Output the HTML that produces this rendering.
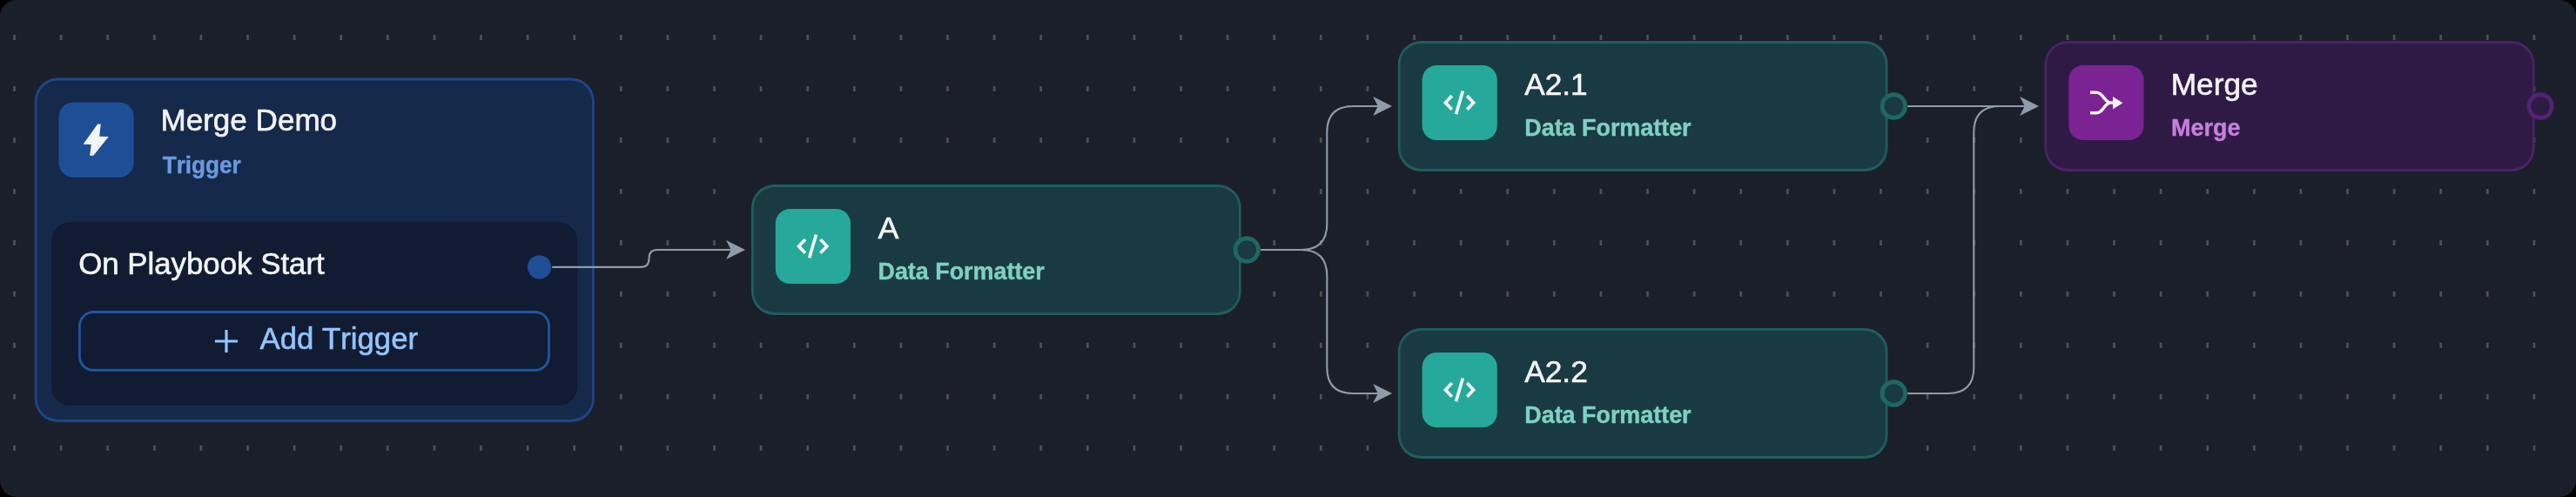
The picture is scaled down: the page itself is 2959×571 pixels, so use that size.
<!DOCTYPE html>
<html>
<head>
<meta charset="utf-8">
<title>Merge Demo</title>
<style>
html,body{margin:0;padding:0;background:#000;}
body{width:2959px;height:571px;overflow:hidden;}
svg{position:absolute;left:0;top:0;display:block;will-change:transform;font-family:"Liberation Sans",sans-serif;}
text{white-space:pre;stroke-linejoin:round;font-kerning:none;}
</style>
</head>
<body>
<svg width="2959" height="571" viewBox="0 0 2959 571">
<rect x="0" y="0" width="2959" height="571" rx="19" fill="#1b1f2a"/>
<path d="M15.15 40.10h2.7v6h-2.7zM68.75 40.10h2.7v6h-2.7zM122.35 40.10h2.7v6h-2.7zM175.95 40.10h2.7v6h-2.7zM229.55 40.10h2.7v6h-2.7zM283.15 40.10h2.7v6h-2.7zM336.75 40.10h2.7v6h-2.7zM390.35 40.10h2.7v6h-2.7zM443.95 40.10h2.7v6h-2.7zM497.55 40.10h2.7v6h-2.7zM551.15 40.10h2.7v6h-2.7zM604.75 40.10h2.7v6h-2.7zM658.35 40.10h2.7v6h-2.7zM711.95 40.10h2.7v6h-2.7zM765.55 40.10h2.7v6h-2.7zM819.15 40.10h2.7v6h-2.7zM872.75 40.10h2.7v6h-2.7zM926.35 40.10h2.7v6h-2.7zM979.95 40.10h2.7v6h-2.7zM1033.55 40.10h2.7v6h-2.7zM1087.15 40.10h2.7v6h-2.7zM1140.75 40.10h2.7v6h-2.7zM1194.35 40.10h2.7v6h-2.7zM1247.95 40.10h2.7v6h-2.7zM1301.55 40.10h2.7v6h-2.7zM1355.15 40.10h2.7v6h-2.7zM1408.75 40.10h2.7v6h-2.7zM1462.35 40.10h2.7v6h-2.7zM1515.95 40.10h2.7v6h-2.7zM1569.55 40.10h2.7v6h-2.7zM1623.15 40.10h2.7v6h-2.7zM1676.75 40.10h2.7v6h-2.7zM1730.35 40.10h2.7v6h-2.7zM1783.95 40.10h2.7v6h-2.7zM1837.55 40.10h2.7v6h-2.7zM1891.15 40.10h2.7v6h-2.7zM1944.75 40.10h2.7v6h-2.7zM1998.35 40.10h2.7v6h-2.7zM2051.95 40.10h2.7v6h-2.7zM2105.55 40.10h2.7v6h-2.7zM2159.15 40.10h2.7v6h-2.7zM2212.75 40.10h2.7v6h-2.7zM2266.35 40.10h2.7v6h-2.7zM2319.95 40.10h2.7v6h-2.7zM2373.55 40.10h2.7v6h-2.7zM2427.15 40.10h2.7v6h-2.7zM2480.75 40.10h2.7v6h-2.7zM2534.35 40.10h2.7v6h-2.7zM2587.95 40.10h2.7v6h-2.7zM2641.55 40.10h2.7v6h-2.7zM2695.15 40.10h2.7v6h-2.7zM2748.75 40.10h2.7v6h-2.7zM2802.35 40.10h2.7v6h-2.7zM2855.95 40.10h2.7v6h-2.7zM2909.55 40.10h2.7v6h-2.7zM15.15 99.05h2.7v6h-2.7zM68.75 99.05h2.7v6h-2.7zM122.35 99.05h2.7v6h-2.7zM175.95 99.05h2.7v6h-2.7zM229.55 99.05h2.7v6h-2.7zM283.15 99.05h2.7v6h-2.7zM336.75 99.05h2.7v6h-2.7zM390.35 99.05h2.7v6h-2.7zM443.95 99.05h2.7v6h-2.7zM497.55 99.05h2.7v6h-2.7zM551.15 99.05h2.7v6h-2.7zM604.75 99.05h2.7v6h-2.7zM658.35 99.05h2.7v6h-2.7zM711.95 99.05h2.7v6h-2.7zM765.55 99.05h2.7v6h-2.7zM819.15 99.05h2.7v6h-2.7zM872.75 99.05h2.7v6h-2.7zM926.35 99.05h2.7v6h-2.7zM979.95 99.05h2.7v6h-2.7zM1033.55 99.05h2.7v6h-2.7zM1087.15 99.05h2.7v6h-2.7zM1140.75 99.05h2.7v6h-2.7zM1194.35 99.05h2.7v6h-2.7zM1247.95 99.05h2.7v6h-2.7zM1301.55 99.05h2.7v6h-2.7zM1355.15 99.05h2.7v6h-2.7zM1408.75 99.05h2.7v6h-2.7zM1462.35 99.05h2.7v6h-2.7zM1515.95 99.05h2.7v6h-2.7zM1569.55 99.05h2.7v6h-2.7zM1623.15 99.05h2.7v6h-2.7zM1676.75 99.05h2.7v6h-2.7zM1730.35 99.05h2.7v6h-2.7zM1783.95 99.05h2.7v6h-2.7zM1837.55 99.05h2.7v6h-2.7zM1891.15 99.05h2.7v6h-2.7zM1944.75 99.05h2.7v6h-2.7zM1998.35 99.05h2.7v6h-2.7zM2051.95 99.05h2.7v6h-2.7zM2105.55 99.05h2.7v6h-2.7zM2159.15 99.05h2.7v6h-2.7zM2212.75 99.05h2.7v6h-2.7zM2266.35 99.05h2.7v6h-2.7zM2319.95 99.05h2.7v6h-2.7zM2373.55 99.05h2.7v6h-2.7zM2427.15 99.05h2.7v6h-2.7zM2480.75 99.05h2.7v6h-2.7zM2534.35 99.05h2.7v6h-2.7zM2587.95 99.05h2.7v6h-2.7zM2641.55 99.05h2.7v6h-2.7zM2695.15 99.05h2.7v6h-2.7zM2748.75 99.05h2.7v6h-2.7zM2802.35 99.05h2.7v6h-2.7zM2855.95 99.05h2.7v6h-2.7zM2909.55 99.05h2.7v6h-2.7zM15.15 158.00h2.7v6h-2.7zM68.75 158.00h2.7v6h-2.7zM122.35 158.00h2.7v6h-2.7zM175.95 158.00h2.7v6h-2.7zM229.55 158.00h2.7v6h-2.7zM283.15 158.00h2.7v6h-2.7zM336.75 158.00h2.7v6h-2.7zM390.35 158.00h2.7v6h-2.7zM443.95 158.00h2.7v6h-2.7zM497.55 158.00h2.7v6h-2.7zM551.15 158.00h2.7v6h-2.7zM604.75 158.00h2.7v6h-2.7zM658.35 158.00h2.7v6h-2.7zM711.95 158.00h2.7v6h-2.7zM765.55 158.00h2.7v6h-2.7zM819.15 158.00h2.7v6h-2.7zM872.75 158.00h2.7v6h-2.7zM926.35 158.00h2.7v6h-2.7zM979.95 158.00h2.7v6h-2.7zM1033.55 158.00h2.7v6h-2.7zM1087.15 158.00h2.7v6h-2.7zM1140.75 158.00h2.7v6h-2.7zM1194.35 158.00h2.7v6h-2.7zM1247.95 158.00h2.7v6h-2.7zM1301.55 158.00h2.7v6h-2.7zM1355.15 158.00h2.7v6h-2.7zM1408.75 158.00h2.7v6h-2.7zM1462.35 158.00h2.7v6h-2.7zM1515.95 158.00h2.7v6h-2.7zM1569.55 158.00h2.7v6h-2.7zM1623.15 158.00h2.7v6h-2.7zM1676.75 158.00h2.7v6h-2.7zM1730.35 158.00h2.7v6h-2.7zM1783.95 158.00h2.7v6h-2.7zM1837.55 158.00h2.7v6h-2.7zM1891.15 158.00h2.7v6h-2.7zM1944.75 158.00h2.7v6h-2.7zM1998.35 158.00h2.7v6h-2.7zM2051.95 158.00h2.7v6h-2.7zM2105.55 158.00h2.7v6h-2.7zM2159.15 158.00h2.7v6h-2.7zM2212.75 158.00h2.7v6h-2.7zM2266.35 158.00h2.7v6h-2.7zM2319.95 158.00h2.7v6h-2.7zM2373.55 158.00h2.7v6h-2.7zM2427.15 158.00h2.7v6h-2.7zM2480.75 158.00h2.7v6h-2.7zM2534.35 158.00h2.7v6h-2.7zM2587.95 158.00h2.7v6h-2.7zM2641.55 158.00h2.7v6h-2.7zM2695.15 158.00h2.7v6h-2.7zM2748.75 158.00h2.7v6h-2.7zM2802.35 158.00h2.7v6h-2.7zM2855.95 158.00h2.7v6h-2.7zM2909.55 158.00h2.7v6h-2.7zM15.15 216.95h2.7v6h-2.7zM68.75 216.95h2.7v6h-2.7zM122.35 216.95h2.7v6h-2.7zM175.95 216.95h2.7v6h-2.7zM229.55 216.95h2.7v6h-2.7zM283.15 216.95h2.7v6h-2.7zM336.75 216.95h2.7v6h-2.7zM390.35 216.95h2.7v6h-2.7zM443.95 216.95h2.7v6h-2.7zM497.55 216.95h2.7v6h-2.7zM551.15 216.95h2.7v6h-2.7zM604.75 216.95h2.7v6h-2.7zM658.35 216.95h2.7v6h-2.7zM711.95 216.95h2.7v6h-2.7zM765.55 216.95h2.7v6h-2.7zM819.15 216.95h2.7v6h-2.7zM872.75 216.95h2.7v6h-2.7zM926.35 216.95h2.7v6h-2.7zM979.95 216.95h2.7v6h-2.7zM1033.55 216.95h2.7v6h-2.7zM1087.15 216.95h2.7v6h-2.7zM1140.75 216.95h2.7v6h-2.7zM1194.35 216.95h2.7v6h-2.7zM1247.95 216.95h2.7v6h-2.7zM1301.55 216.95h2.7v6h-2.7zM1355.15 216.95h2.7v6h-2.7zM1408.75 216.95h2.7v6h-2.7zM1462.35 216.95h2.7v6h-2.7zM1515.95 216.95h2.7v6h-2.7zM1569.55 216.95h2.7v6h-2.7zM1623.15 216.95h2.7v6h-2.7zM1676.75 216.95h2.7v6h-2.7zM1730.35 216.95h2.7v6h-2.7zM1783.95 216.95h2.7v6h-2.7zM1837.55 216.95h2.7v6h-2.7zM1891.15 216.95h2.7v6h-2.7zM1944.75 216.95h2.7v6h-2.7zM1998.35 216.95h2.7v6h-2.7zM2051.95 216.95h2.7v6h-2.7zM2105.55 216.95h2.7v6h-2.7zM2159.15 216.95h2.7v6h-2.7zM2212.75 216.95h2.7v6h-2.7zM2266.35 216.95h2.7v6h-2.7zM2319.95 216.95h2.7v6h-2.7zM2373.55 216.95h2.7v6h-2.7zM2427.15 216.95h2.7v6h-2.7zM2480.75 216.95h2.7v6h-2.7zM2534.35 216.95h2.7v6h-2.7zM2587.95 216.95h2.7v6h-2.7zM2641.55 216.95h2.7v6h-2.7zM2695.15 216.95h2.7v6h-2.7zM2748.75 216.95h2.7v6h-2.7zM2802.35 216.95h2.7v6h-2.7zM2855.95 216.95h2.7v6h-2.7zM2909.55 216.95h2.7v6h-2.7zM15.15 275.90h2.7v6h-2.7zM68.75 275.90h2.7v6h-2.7zM122.35 275.90h2.7v6h-2.7zM175.95 275.90h2.7v6h-2.7zM229.55 275.90h2.7v6h-2.7zM283.15 275.90h2.7v6h-2.7zM336.75 275.90h2.7v6h-2.7zM390.35 275.90h2.7v6h-2.7zM443.95 275.90h2.7v6h-2.7zM497.55 275.90h2.7v6h-2.7zM551.15 275.90h2.7v6h-2.7zM604.75 275.90h2.7v6h-2.7zM658.35 275.90h2.7v6h-2.7zM711.95 275.90h2.7v6h-2.7zM765.55 275.90h2.7v6h-2.7zM819.15 275.90h2.7v6h-2.7zM872.75 275.90h2.7v6h-2.7zM926.35 275.90h2.7v6h-2.7zM979.95 275.90h2.7v6h-2.7zM1033.55 275.90h2.7v6h-2.7zM1087.15 275.90h2.7v6h-2.7zM1140.75 275.90h2.7v6h-2.7zM1194.35 275.90h2.7v6h-2.7zM1247.95 275.90h2.7v6h-2.7zM1301.55 275.90h2.7v6h-2.7zM1355.15 275.90h2.7v6h-2.7zM1408.75 275.90h2.7v6h-2.7zM1462.35 275.90h2.7v6h-2.7zM1515.95 275.90h2.7v6h-2.7zM1569.55 275.90h2.7v6h-2.7zM1623.15 275.90h2.7v6h-2.7zM1676.75 275.90h2.7v6h-2.7zM1730.35 275.90h2.7v6h-2.7zM1783.95 275.90h2.7v6h-2.7zM1837.55 275.90h2.7v6h-2.7zM1891.15 275.90h2.7v6h-2.7zM1944.75 275.90h2.7v6h-2.7zM1998.35 275.90h2.7v6h-2.7zM2051.95 275.90h2.7v6h-2.7zM2105.55 275.90h2.7v6h-2.7zM2159.15 275.90h2.7v6h-2.7zM2212.75 275.90h2.7v6h-2.7zM2266.35 275.90h2.7v6h-2.7zM2319.95 275.90h2.7v6h-2.7zM2373.55 275.90h2.7v6h-2.7zM2427.15 275.90h2.7v6h-2.7zM2480.75 275.90h2.7v6h-2.7zM2534.35 275.90h2.7v6h-2.7zM2587.95 275.90h2.7v6h-2.7zM2641.55 275.90h2.7v6h-2.7zM2695.15 275.90h2.7v6h-2.7zM2748.75 275.90h2.7v6h-2.7zM2802.35 275.90h2.7v6h-2.7zM2855.95 275.90h2.7v6h-2.7zM2909.55 275.90h2.7v6h-2.7zM15.15 334.85h2.7v6h-2.7zM68.75 334.85h2.7v6h-2.7zM122.35 334.85h2.7v6h-2.7zM175.95 334.85h2.7v6h-2.7zM229.55 334.85h2.7v6h-2.7zM283.15 334.85h2.7v6h-2.7zM336.75 334.85h2.7v6h-2.7zM390.35 334.85h2.7v6h-2.7zM443.95 334.85h2.7v6h-2.7zM497.55 334.85h2.7v6h-2.7zM551.15 334.85h2.7v6h-2.7zM604.75 334.85h2.7v6h-2.7zM658.35 334.85h2.7v6h-2.7zM711.95 334.85h2.7v6h-2.7zM765.55 334.85h2.7v6h-2.7zM819.15 334.85h2.7v6h-2.7zM872.75 334.85h2.7v6h-2.7zM926.35 334.85h2.7v6h-2.7zM979.95 334.85h2.7v6h-2.7zM1033.55 334.85h2.7v6h-2.7zM1087.15 334.85h2.7v6h-2.7zM1140.75 334.85h2.7v6h-2.7zM1194.35 334.85h2.7v6h-2.7zM1247.95 334.85h2.7v6h-2.7zM1301.55 334.85h2.7v6h-2.7zM1355.15 334.85h2.7v6h-2.7zM1408.75 334.85h2.7v6h-2.7zM1462.35 334.85h2.7v6h-2.7zM1515.95 334.85h2.7v6h-2.7zM1569.55 334.85h2.7v6h-2.7zM1623.15 334.85h2.7v6h-2.7zM1676.75 334.85h2.7v6h-2.7zM1730.35 334.85h2.7v6h-2.7zM1783.95 334.85h2.7v6h-2.7zM1837.55 334.85h2.7v6h-2.7zM1891.15 334.85h2.7v6h-2.7zM1944.75 334.85h2.7v6h-2.7zM1998.35 334.85h2.7v6h-2.7zM2051.95 334.85h2.7v6h-2.7zM2105.55 334.85h2.7v6h-2.7zM2159.15 334.85h2.7v6h-2.7zM2212.75 334.85h2.7v6h-2.7zM2266.35 334.85h2.7v6h-2.7zM2319.95 334.85h2.7v6h-2.7zM2373.55 334.85h2.7v6h-2.7zM2427.15 334.85h2.7v6h-2.7zM2480.75 334.85h2.7v6h-2.7zM2534.35 334.85h2.7v6h-2.7zM2587.95 334.85h2.7v6h-2.7zM2641.55 334.85h2.7v6h-2.7zM2695.15 334.85h2.7v6h-2.7zM2748.75 334.85h2.7v6h-2.7zM2802.35 334.85h2.7v6h-2.7zM2855.95 334.85h2.7v6h-2.7zM2909.55 334.85h2.7v6h-2.7zM15.15 393.80h2.7v6h-2.7zM68.75 393.80h2.7v6h-2.7zM122.35 393.80h2.7v6h-2.7zM175.95 393.80h2.7v6h-2.7zM229.55 393.80h2.7v6h-2.7zM283.15 393.80h2.7v6h-2.7zM336.75 393.80h2.7v6h-2.7zM390.35 393.80h2.7v6h-2.7zM443.95 393.80h2.7v6h-2.7zM497.55 393.80h2.7v6h-2.7zM551.15 393.80h2.7v6h-2.7zM604.75 393.80h2.7v6h-2.7zM658.35 393.80h2.7v6h-2.7zM711.95 393.80h2.7v6h-2.7zM765.55 393.80h2.7v6h-2.7zM819.15 393.80h2.7v6h-2.7zM872.75 393.80h2.7v6h-2.7zM926.35 393.80h2.7v6h-2.7zM979.95 393.80h2.7v6h-2.7zM1033.55 393.80h2.7v6h-2.7zM1087.15 393.80h2.7v6h-2.7zM1140.75 393.80h2.7v6h-2.7zM1194.35 393.80h2.7v6h-2.7zM1247.95 393.80h2.7v6h-2.7zM1301.55 393.80h2.7v6h-2.7zM1355.15 393.80h2.7v6h-2.7zM1408.75 393.80h2.7v6h-2.7zM1462.35 393.80h2.7v6h-2.7zM1515.95 393.80h2.7v6h-2.7zM1569.55 393.80h2.7v6h-2.7zM1623.15 393.80h2.7v6h-2.7zM1676.75 393.80h2.7v6h-2.7zM1730.35 393.80h2.7v6h-2.7zM1783.95 393.80h2.7v6h-2.7zM1837.55 393.80h2.7v6h-2.7zM1891.15 393.80h2.7v6h-2.7zM1944.75 393.80h2.7v6h-2.7zM1998.35 393.80h2.7v6h-2.7zM2051.95 393.80h2.7v6h-2.7zM2105.55 393.80h2.7v6h-2.7zM2159.15 393.80h2.7v6h-2.7zM2212.75 393.80h2.7v6h-2.7zM2266.35 393.80h2.7v6h-2.7zM2319.95 393.80h2.7v6h-2.7zM2373.55 393.80h2.7v6h-2.7zM2427.15 393.80h2.7v6h-2.7zM2480.75 393.80h2.7v6h-2.7zM2534.35 393.80h2.7v6h-2.7zM2587.95 393.80h2.7v6h-2.7zM2641.55 393.80h2.7v6h-2.7zM2695.15 393.80h2.7v6h-2.7zM2748.75 393.80h2.7v6h-2.7zM2802.35 393.80h2.7v6h-2.7zM2855.95 393.80h2.7v6h-2.7zM2909.55 393.80h2.7v6h-2.7zM15.15 452.75h2.7v6h-2.7zM68.75 452.75h2.7v6h-2.7zM122.35 452.75h2.7v6h-2.7zM175.95 452.75h2.7v6h-2.7zM229.55 452.75h2.7v6h-2.7zM283.15 452.75h2.7v6h-2.7zM336.75 452.75h2.7v6h-2.7zM390.35 452.75h2.7v6h-2.7zM443.95 452.75h2.7v6h-2.7zM497.55 452.75h2.7v6h-2.7zM551.15 452.75h2.7v6h-2.7zM604.75 452.75h2.7v6h-2.7zM658.35 452.75h2.7v6h-2.7zM711.95 452.75h2.7v6h-2.7zM765.55 452.75h2.7v6h-2.7zM819.15 452.75h2.7v6h-2.7zM872.75 452.75h2.7v6h-2.7zM926.35 452.75h2.7v6h-2.7zM979.95 452.75h2.7v6h-2.7zM1033.55 452.75h2.7v6h-2.7zM1087.15 452.75h2.7v6h-2.7zM1140.75 452.75h2.7v6h-2.7zM1194.35 452.75h2.7v6h-2.7zM1247.95 452.75h2.7v6h-2.7zM1301.55 452.75h2.7v6h-2.7zM1355.15 452.75h2.7v6h-2.7zM1408.75 452.75h2.7v6h-2.7zM1462.35 452.75h2.7v6h-2.7zM1515.95 452.75h2.7v6h-2.7zM1569.55 452.75h2.7v6h-2.7zM1623.15 452.75h2.7v6h-2.7zM1676.75 452.75h2.7v6h-2.7zM1730.35 452.75h2.7v6h-2.7zM1783.95 452.75h2.7v6h-2.7zM1837.55 452.75h2.7v6h-2.7zM1891.15 452.75h2.7v6h-2.7zM1944.75 452.75h2.7v6h-2.7zM1998.35 452.75h2.7v6h-2.7zM2051.95 452.75h2.7v6h-2.7zM2105.55 452.75h2.7v6h-2.7zM2159.15 452.75h2.7v6h-2.7zM2212.75 452.75h2.7v6h-2.7zM2266.35 452.75h2.7v6h-2.7zM2319.95 452.75h2.7v6h-2.7zM2373.55 452.75h2.7v6h-2.7zM2427.15 452.75h2.7v6h-2.7zM2480.75 452.75h2.7v6h-2.7zM2534.35 452.75h2.7v6h-2.7zM2587.95 452.75h2.7v6h-2.7zM2641.55 452.75h2.7v6h-2.7zM2695.15 452.75h2.7v6h-2.7zM2748.75 452.75h2.7v6h-2.7zM2802.35 452.75h2.7v6h-2.7zM2855.95 452.75h2.7v6h-2.7zM2909.55 452.75h2.7v6h-2.7zM15.15 511.70h2.7v6h-2.7zM68.75 511.70h2.7v6h-2.7zM122.35 511.70h2.7v6h-2.7zM175.95 511.70h2.7v6h-2.7zM229.55 511.70h2.7v6h-2.7zM283.15 511.70h2.7v6h-2.7zM336.75 511.70h2.7v6h-2.7zM390.35 511.70h2.7v6h-2.7zM443.95 511.70h2.7v6h-2.7zM497.55 511.70h2.7v6h-2.7zM551.15 511.70h2.7v6h-2.7zM604.75 511.70h2.7v6h-2.7zM658.35 511.70h2.7v6h-2.7zM711.95 511.70h2.7v6h-2.7zM765.55 511.70h2.7v6h-2.7zM819.15 511.70h2.7v6h-2.7zM872.75 511.70h2.7v6h-2.7zM926.35 511.70h2.7v6h-2.7zM979.95 511.70h2.7v6h-2.7zM1033.55 511.70h2.7v6h-2.7zM1087.15 511.70h2.7v6h-2.7zM1140.75 511.70h2.7v6h-2.7zM1194.35 511.70h2.7v6h-2.7zM1247.95 511.70h2.7v6h-2.7zM1301.55 511.70h2.7v6h-2.7zM1355.15 511.70h2.7v6h-2.7zM1408.75 511.70h2.7v6h-2.7zM1462.35 511.70h2.7v6h-2.7zM1515.95 511.70h2.7v6h-2.7zM1569.55 511.70h2.7v6h-2.7zM1623.15 511.70h2.7v6h-2.7zM1676.75 511.70h2.7v6h-2.7zM1730.35 511.70h2.7v6h-2.7zM1783.95 511.70h2.7v6h-2.7zM1837.55 511.70h2.7v6h-2.7zM1891.15 511.70h2.7v6h-2.7zM1944.75 511.70h2.7v6h-2.7zM1998.35 511.70h2.7v6h-2.7zM2051.95 511.70h2.7v6h-2.7zM2105.55 511.70h2.7v6h-2.7zM2159.15 511.70h2.7v6h-2.7zM2212.75 511.70h2.7v6h-2.7zM2266.35 511.70h2.7v6h-2.7zM2319.95 511.70h2.7v6h-2.7zM2373.55 511.70h2.7v6h-2.7zM2427.15 511.70h2.7v6h-2.7zM2480.75 511.70h2.7v6h-2.7zM2534.35 511.70h2.7v6h-2.7zM2587.95 511.70h2.7v6h-2.7zM2641.55 511.70h2.7v6h-2.7zM2695.15 511.70h2.7v6h-2.7zM2748.75 511.70h2.7v6h-2.7zM2802.35 511.70h2.7v6h-2.7zM2855.95 511.70h2.7v6h-2.7zM2909.55 511.70h2.7v6h-2.7z" fill="#505050"/>
<rect x="39.8" y="89.4" width="643" height="395.6" rx="26.8" fill="#1c4686"/><rect x="42.60" y="92.50" width="637.40" height="389.40" rx="24.00" ry="23.70" fill="#15294b"/>
<rect x="67.5" y="117.5" width="86.2" height="86.2" rx="16.8" fill="#1e4e96"/><g transform="translate(110.60,160.60)"><path d="M1.600 -18.200 L5.200 -18.200 L3.600 -3.900 L14.200 -3.700 L-3.300 18.100 L-7.500 18.100 L-5.800 5.500 L-15.100 5.200 Z" fill="#f3f4f6"/></g>
<text transform="translate(184.42,150.00) scale(0.9966,1)" font-size="35.2" fill="#f3f4f6" stroke="#f3f4f6" stroke-width="0.6">Merge Demo</text>
<text transform="translate(186.71,199.00) scale(0.9475,1)" font-size="27.6" fill="#6a9adf" stroke="#6a9adf" stroke-width="0.4" font-weight="bold">Trigger</text>
<rect x="59.200" y="255.300" width="604" height="210.500" rx="21.500" fill="#111b32"/>
<text transform="translate(90.15,315.00) scale(0.9897,1)" font-size="35.2" fill="#f3f4f6" stroke="#f3f4f6" stroke-width="0.6">On Playbook Start</text>
<rect x="90.100" y="357.100" width="541.700" height="69.700" rx="17.200" fill="#2056a5"/><rect x="92.800" y="360.100" width="536.300" height="63.700" rx="14.500" ry="14.200" fill="#111b32"/>
<path d="M246.900 392 H273.100 M260 378.900 V405.100" stroke="#93c5fd" stroke-width="3.200" fill="none"/>
<text transform="translate(298.48,401.00) scale(0.9880,1)" font-size="35.2" fill="#93c5fd" stroke="#93c5fd" stroke-width="0.6">Add Trigger</text>
<rect x="863" y="211.9" width="562.7" height="150.1" rx="26.8" fill="#1e5e5d"/><rect x="865.70" y="215.00" width="557.30" height="143.90" rx="24.10" ry="23.70" fill="#193a42"/><rect x="890.8" y="239.9" width="86.2" height="86.2" rx="16.8" fill="#26a99a"/><g transform="translate(933.90,283.00)"><g fill="none" stroke="#f3f4f6" stroke-width="3.700"><path d="M-8.900 -7.900 L-16.300 -0.100 L-8.900 7.700"/><path d="M8.500 -7.900 L15.900 -0.100 L8.500 7.700"/><path d="M3.600 -13.500 L-4.200 13.300"/></g></g><text transform="translate(1008.48,274.00) scale(1.0218,1)" font-size="35.2" fill="#f3f4f6" stroke="#f3f4f6" stroke-width="0.6">A</text><text transform="translate(1008.45,321.00) scale(0.9748,1)" font-size="27.6" fill="#7fd0c4" stroke="#7fd0c4" stroke-width="0.4" font-weight="bold">Data Formatter</text>
<rect x="1605.8" y="46.9" width="562.7" height="150.1" rx="26.8" fill="#1e5e5d"/><rect x="1608.50" y="50.00" width="557.30" height="143.90" rx="24.10" ry="23.70" fill="#193a42"/><rect x="1633.6" y="74.9" width="86.2" height="86.2" rx="16.8" fill="#26a99a"/><g transform="translate(1676.70,118.00)"><g fill="none" stroke="#f3f4f6" stroke-width="3.700"><path d="M-8.900 -7.900 L-16.300 -0.100 L-8.900 7.700"/><path d="M8.500 -7.900 L15.900 -0.100 L8.500 7.700"/><path d="M3.600 -13.500 L-4.200 13.300"/></g></g><text transform="translate(1751.28,109.00) scale(1.0000,1)" font-size="35.2" fill="#f3f4f6" stroke="#f3f4f6" stroke-width="0.6">A2.1</text><text transform="translate(1751.25,156.00) scale(0.9748,1)" font-size="27.6" fill="#7fd0c4" stroke="#7fd0c4" stroke-width="0.4" font-weight="bold">Data Formatter</text>
<rect x="1605.8" y="376.9" width="562.7" height="150.1" rx="26.8" fill="#1e5e5d"/><rect x="1608.50" y="380.00" width="557.30" height="143.90" rx="24.10" ry="23.70" fill="#193a42"/><rect x="1633.6" y="404.9" width="86.2" height="86.2" rx="16.8" fill="#26a99a"/><g transform="translate(1676.70,448.00)"><g fill="none" stroke="#f3f4f6" stroke-width="3.700"><path d="M-8.900 -7.900 L-16.300 -0.100 L-8.900 7.700"/><path d="M8.500 -7.900 L15.900 -0.100 L8.500 7.700"/><path d="M3.600 -13.500 L-4.200 13.300"/></g></g><text transform="translate(1751.28,439.00) scale(1.0011,1)" font-size="35.2" fill="#f3f4f6" stroke="#f3f4f6" stroke-width="0.6">A2.2</text><text transform="translate(1751.25,486.00) scale(0.9748,1)" font-size="27.6" fill="#7fd0c4" stroke="#7fd0c4" stroke-width="0.4" font-weight="bold">Data Formatter</text>
<rect x="2348.5" y="46.9" width="563" height="150.1" rx="26.8" fill="#4b2268"/><rect x="2351.20" y="50.00" width="557.60" height="143.90" rx="24.10" ry="23.70" fill="#2f1a45"/>
<rect x="2376.3" y="74.9" width="86.2" height="86.2" rx="16.8" fill="#7b2393"/><g transform="translate(2419.40,118.00)"><path d="M-18.400 -11.800 H-11 C-3.500 -11.800 -2 0 5 0 H9 M-18.400 11.800 H-11 C-3.500 11.800 -2 0 5 0 H9" fill="none" stroke="#f3f4f6" stroke-width="3.600"/><path d="M19 0.200 L7.600 -7 V7.400 Z" fill="#f3f4f6"/></g>
<text transform="translate(2493.65,109.00) scale(1.0025,1)" font-size="35.2" fill="#f3f4f6" stroke="#f3f4f6" stroke-width="0.6">Merge</text>
<text transform="translate(2494.10,156.00) scale(0.9771,1)" font-size="27.6" fill="#c67fdb" stroke="#c67fdb" stroke-width="0.4" font-weight="bold">Merge</text>
<g fill="none" stroke="#8f9ba9" stroke-width="2.100"><path d="M634.200 306.900 H736 Q745.500 306.900 745.500 297 Q745.500 287 755 287 H842"/><path d="M1448 287 H1494.500 Q1524.300 287 1524.300 257 V152 Q1524.300 122 1554.500 122 H1585"/><path d="M1448 287 H1494.500 Q1524.300 287 1524.300 317 V422 Q1524.300 452 1554.500 452 H1585"/><path d="M2191 122 H2328"/><path d="M2191 452 H2237.300 Q2267.300 452 2267.300 422 V152 Q2267.300 122 2297.300 122 H2328"/></g>
<g fill="#8f9ba9"><path d="M856.0 287 L834.10 276.00 L839.70 287 L834.10 298.00 Z"/><path d="M1599.1 122 L1577.20 111.00 L1582.80 122 L1577.20 133.00 Z"/><path d="M1599.1 452 L1577.20 441.00 L1582.80 452 L1577.20 463.00 Z"/><path d="M2342.0 122 L2320.10 111.00 L2325.70 122 L2320.10 133.00 Z"/></g>
<circle cx="619.600" cy="306.900" r="13.600" fill="#1e4e96"/>
<circle cx="1432.2" cy="287" r="13.100" fill="#193a42" stroke="#1f6862" stroke-width="4.600"/><circle cx="1432.2" cy="287" r="15.700" fill="none" stroke="#1f6862" stroke-opacity="0.5" stroke-width="0.900"/>
<circle cx="2175.3" cy="122" r="13.100" fill="#193a42" stroke="#1f6862" stroke-width="4.600"/><circle cx="2175.3" cy="122" r="15.700" fill="none" stroke="#1f6862" stroke-opacity="0.5" stroke-width="0.900"/>
<circle cx="2175.3" cy="452" r="13.100" fill="#193a42" stroke="#1f6862" stroke-width="4.600"/><circle cx="2175.3" cy="452" r="15.700" fill="none" stroke="#1f6862" stroke-opacity="0.5" stroke-width="0.900"/>
<circle cx="2918.1" cy="122" r="13.100" fill="#2f1a45" stroke="#512372" stroke-width="4.600"/><circle cx="2918.1" cy="122" r="15.700" fill="none" stroke="#512372" stroke-opacity="0.5" stroke-width="0.900"/>
</svg>
</body>
</html>
